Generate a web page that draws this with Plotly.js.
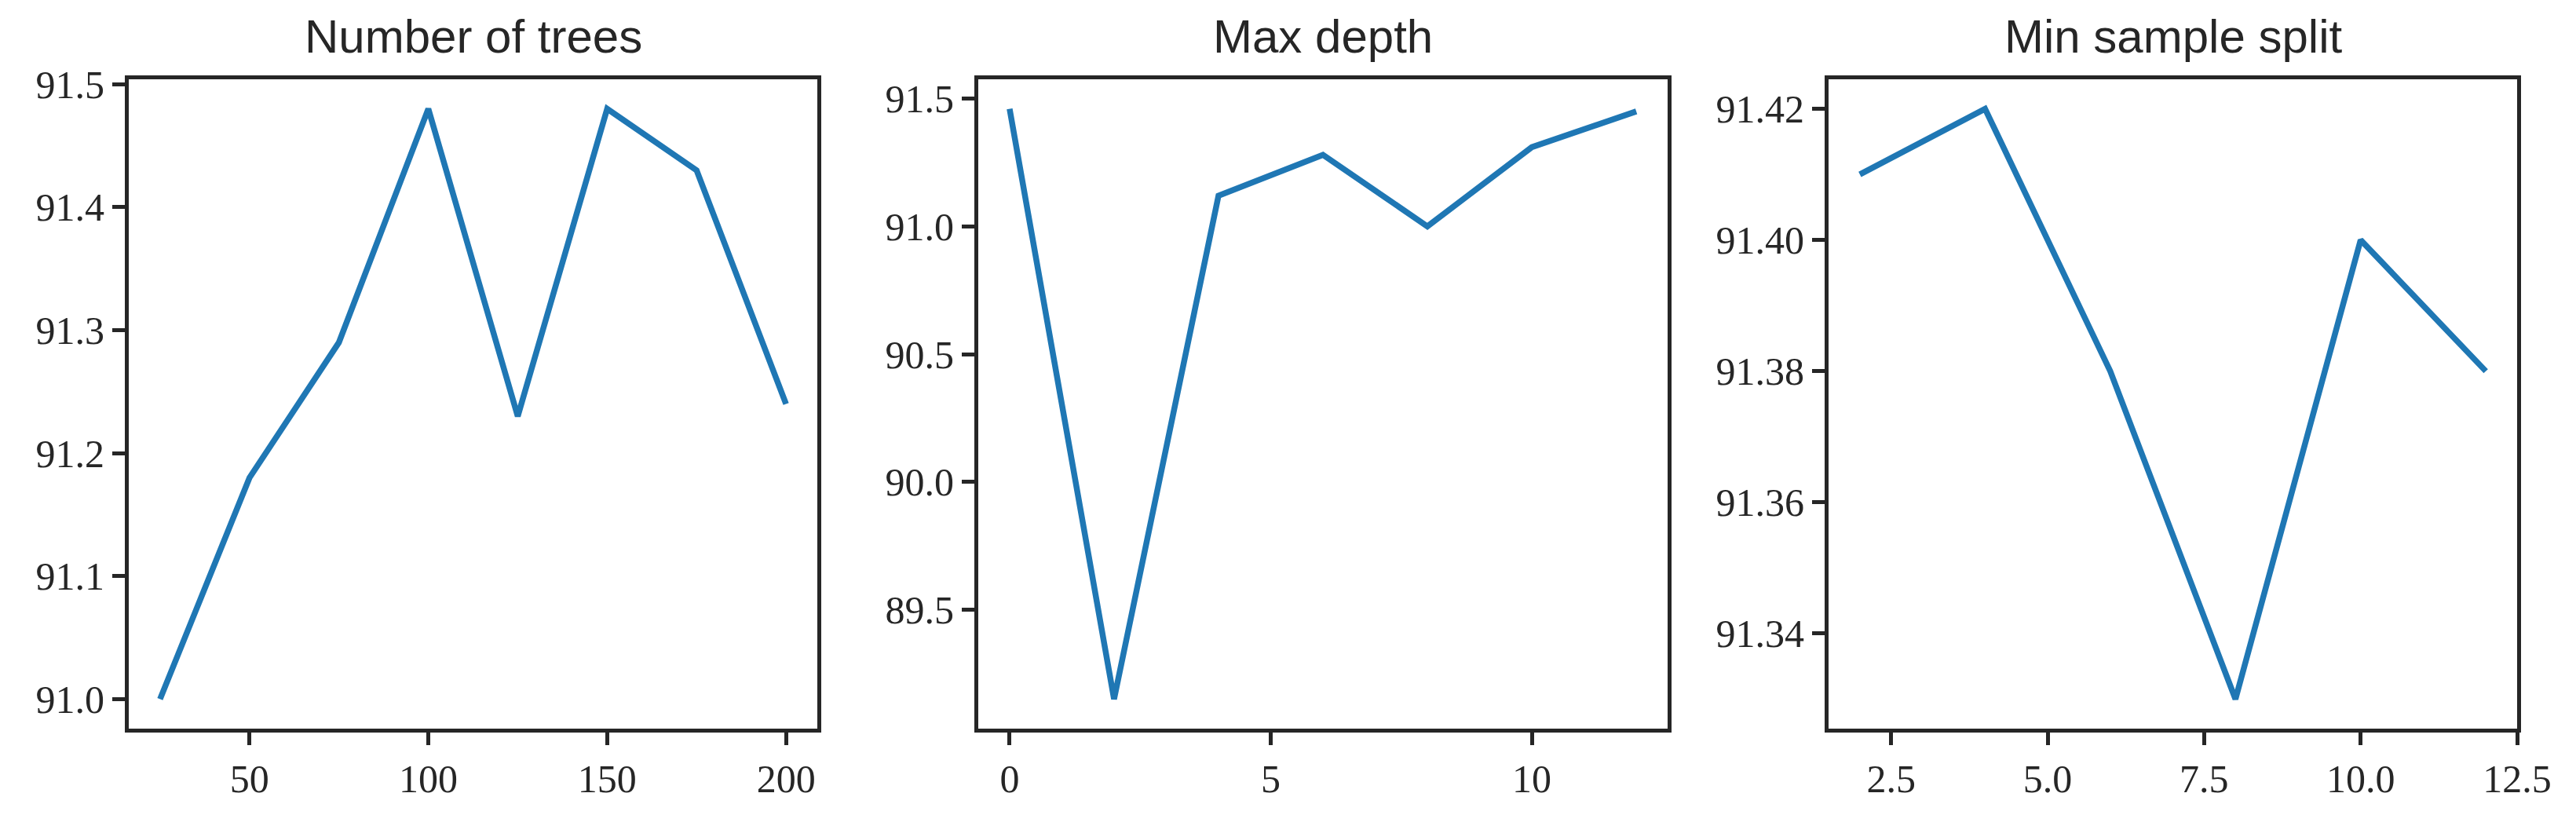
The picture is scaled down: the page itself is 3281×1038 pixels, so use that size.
<!DOCTYPE html>
<html>
<head>
<meta charset="utf-8">
<script src="https://cdn.plot.ly/plotly-3.0.1.min.js"></script>
<style>
  html, body { margin: 0; padding: 0; background: #fff; }
  #plot { width: 3281px; height: 1038px; }
</style>
</head>
<body>
<div id="plot"></div>
<script>
// data
var panelTitles = ["Number of trees", "Max depth", "Min sample split"];

var treesX = [25, 50, 75, 100, 125, 150, 175, 200];
var treesY = [91.00, 91.18, 91.29, 91.48, 91.23, 91.48, 91.43, 91.24];

var depthX = [0, 2, 4, 6, 8, 10, 12];
var depthY = [91.46, 89.15, 91.12, 91.28, 91.00, 91.31, 91.45];

var splitX = [2, 4, 6, 8, 10, 12];
var splitY = [91.41, 91.42, 91.38, 91.33, 91.40, 91.38];

// ─────────────────────────────
// page / panel geometry (pixels)
// ─────────────────────────────
var W = 3281, H = 1038;
var panelsPx = [[164, 1041], [1246, 2124], [2329, 3206]];
var topPx = 101, bottomPx = 928;

var ink = "#262626";
var blue = "#1f77b4";

function dom(p) { return [p[0] / W, p[1] / W]; }
var yDom = [1 - bottomPx / H, 1 - topPx / H];

// matplotlib style 5% padding
function pad(arr) {
    var lo = Math.min.apply(null, arr), hi = Math.max.apply(null, arr);
    var m = (hi - lo) * 0.05;
    return [lo - m, hi + m];
}

function baseAxis(extra) {
    var a = {
        showline: true,
        mirror: true,
        linecolor: ink,
        linewidth: 5,
        ticks: "outside",
        ticklen: 16,
        tickwidth: 5,
        tickcolor: ink,
        showgrid: false,
        zeroline: false,
        tickfont: { family: "Liberation Serif, DejaVu Serif, serif", size: 50, color: ink },
        fixedrange: true
    };
    for (var k in extra) a[k] = extra[k];
    return a;
}

function trace(x, y, xa, ya) {
    return {
        x: x, y: y,
        xaxis: xa, yaxis: ya,
        type: "scatter",
        mode: "lines",
        line: { color: blue, width: 7.5 },
        hoverinfo: "skip",
        showlegend: false
    };
}

var data = [
    trace(treesX, treesY, "x", "y"),
    trace(depthX, depthY, "x2", "y2"),
    trace(splitX, splitY, "x3", "y3")
];

var layout = {
    width: W,
    height: H,
    margin: { l: 0, r: 0, t: 0, b: 0 },
    paper_bgcolor: "#ffffff",
    plot_bgcolor: "#ffffff",
    showlegend: false,

    xaxis: baseAxis({ domain: dom(panelsPx[0]), anchor: "y", range: pad(treesX),
        tickvals: [50, 100, 150, 200], ticktext: ["50", "100", "150", "200"] }),
    yaxis: baseAxis({ domain: yDom, anchor: "x", range: pad(treesY),
        tickvals: [91.0, 91.1, 91.2, 91.3, 91.4, 91.5], tickformat: ".1f" }),

    xaxis2: baseAxis({ domain: dom(panelsPx[1]), anchor: "y2", range: pad(depthX),
        tickvals: [0, 5, 10] }),
    yaxis2: baseAxis({ domain: yDom, anchor: "x2", range: pad(depthY),
        tickvals: [89.5, 90.0, 90.5, 91.0, 91.5], tickformat: ".1f" }),

    xaxis3: baseAxis({ domain: dom(panelsPx[2]), anchor: "y3", range: [1.5, 12.5],
        tickvals: [2.5, 5.0, 7.5, 10.0, 12.5], tickformat: ".1f" }),
    yaxis3: baseAxis({ domain: yDom, anchor: "x3", range: pad(splitY),
        tickvals: [91.34, 91.36, 91.38, 91.40, 91.42], tickformat: ".2f" }),

    annotations: panelTitles.map(function (t, i) {
        var p = panelsPx[i];
        return {
            text: t,
            xref: "paper", yref: "paper",
            x: (p[0] + p[1]) / 2 / W,
            y: 1 - 82 / H,
            xanchor: "center", yanchor: "bottom",
            showarrow: false,
            font: { family: "Liberation Sans, Arial, sans-serif", size: 60, color: ink }
        };
    })
};

Plotly.newPlot("plot", data, layout, { displayModeBar: false, staticPlot: true });
</script>
</body>
</html>
